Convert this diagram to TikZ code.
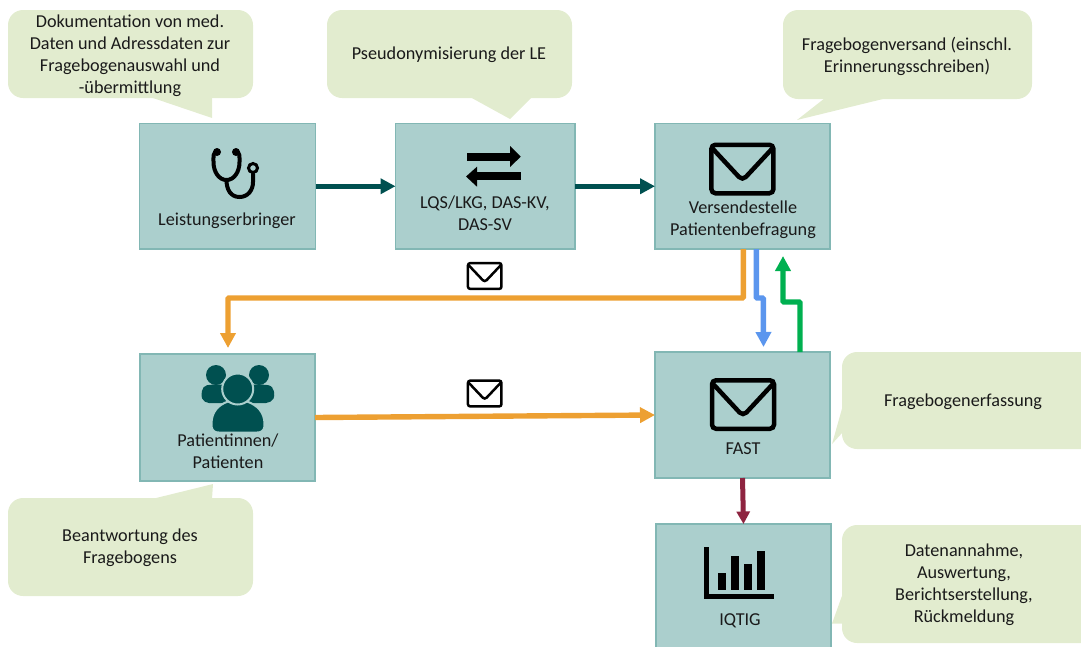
\documentclass[tikz,border=0pt]{standalone}
\usepackage{fontspec}
\setmainfont{Carlito}
\usetikzlibrary{arrows.meta}
\definecolor{boxfill}{HTML}{ABCFCD}
\definecolor{boxline}{HTML}{82B7B4}
\definecolor{callfill}{HTML}{E2ECCF}
\definecolor{tealdark}{HTML}{005050}
\definecolor{orangeline}{HTML}{EDA032}
\definecolor{blueline}{HTML}{5B96EE}
\definecolor{greenline}{HTML}{00B050}
\definecolor{redline}{HTML}{8E2440}
\definecolor{txt}{HTML}{1A1A1A}
\tikzset{
  x=1pt,y=-1pt,
  boxn/.style={draw=boxline,line width=1.8pt,fill=boxfill,inner sep=0pt,outer sep=0pt},
  call/.style={fill=callfill,rounded corners=15pt},
  lab/.style={align=center,font=\fontsize{18.2}{22}\selectfont,text=txt,inner sep=0pt},
  conn/.style={line width=5.4pt,-{Triangle[length=15pt,width=15pt]}},
}
\newcommand{\envicon}[5]{% cx cy w h lw
  \begin{scope}[shift={(#1,#2)}]
    \draw[black,line width=#5pt,rounded corners=#5*0.9pt] (-#3*0.5,-#4*0.5) rectangle (#3*0.5,#4*0.5);
    \draw[black,line width=#5pt,rounded corners=#5*1.1pt] (-#3*0.48,-#4*0.42) -- (0,#4*0.24) -- (#3*0.48,-#4*0.42);
  \end{scope}}
\begin{document}
\begin{tikzpicture}
\useasboundingbox (0,0) rectangle (1081,646);
% callouts
\fill[call] (8,10) rectangle (253,98);
\fill[callfill] (150,97) -- (212,118) -- (212,97) -- cycle;
\fill[call] (327,10) rectangle (572,98);
\fill[callfill] (470,97) -- (510,119) -- (532,97) -- cycle;
\fill[call] (783,10) rectangle (1032,99);
\fill[callfill] (887,98) -- (797,120) -- (825,98) -- cycle;
\fill[call] (842,352) rectangle (1100,449);
\fill[callfill] (843,405) -- (832,444) -- (843,432) -- cycle;
\fill[call] (8,498) rectangle (253,596);
\fill[callfill] (152,499) -- (213,484) -- (212,499) -- cycle;
\fill[call] (842,525) rectangle (1100,643);
\fill[callfill] (843,593) -- (832,623.5) -- (845,623.5) -- cycle;
% boxes
\node[boxn,minimum width=176pt,minimum height=125.5pt] (le) at (227.5,186.25) {};
\node[boxn,minimum width=179.5pt,minimum height=125.5pt] (lq) at (485.25,186.25) {};
\node[boxn,minimum width=175pt,minimum height=125.5pt] (ve) at (742.5,186.25) {};
\node[boxn,minimum width=175pt,minimum height=127pt] (pa) at (227.5,417.5) {};
\node[boxn,minimum width=175pt,minimum height=126pt] (fa) at (742.5,415) {};
\node[boxn,minimum width=175pt,minimum height=136pt] (iq) at (743.5,592) {};
% free ends of the connectors
\coordinate (orangeend) at (228,348);
\coordinate (blueend) at (763.5,347);
\coordinate (greenend) at (783,256);
% connectors
\draw[conn,tealdark] (le.east) -- (lq.west);
\draw[conn,tealdark] (lq.east) -- (ve.west);
\draw[conn,orangeline,rounded corners=1pt] ([xshift=0.8pt]ve.south) -- ++(0,49) -| (orangeend);
\draw[conn,orangeline] (pa.east) -- (fa.west);
\draw[conn,blueline,rounded corners=1pt] ([xshift=13.8pt]ve.south) -- ++(0,49) -- ++(7,0) -- (blueend);
\draw[conn,greenline,rounded corners=1pt] ([xshift=57.5pt]fa.north) -- ++(0,-50) -| (greenend);
\draw[conn,redline,line width=5pt,-{Triangle[length=12.5pt,width=13pt]}] (fa.south) -- (iq.north);
% envelopes
\envicon{742.4}{169}{62}{48.5}{4.5}
\envicon{743}{404.5}{62}{48.5}{4.5}
\envicon{484.7}{276}{33.5}{25.8}{2.5}
\envicon{484.7}{393.5}{33.5}{25.8}{2.5}
% arrows icon
\fill[black] (467,152.7) rectangle (512,160.7);
\fill[black] (510,146) -- (520.7,156.7) -- (510,167) -- cycle;
\fill[black] (475,172.3) rectangle (521,180.3);
\fill[black] (477,166.7) -- (466,176.5) -- (477,186.7) -- cycle;
% stethoscope
\begin{scope}[black,line width=4pt,line cap=round]
  \draw (217,152) .. controls (213,152) and (213.5,156) .. (213.5,162) .. controls (213.5,172) and (219,180) .. (226.5,180) .. controls (234,180) and (239.5,172) .. (239.5,162) .. controls (239.5,156) and (240,152) .. (236,152);
  \draw (226.5,180) .. controls (226.5,190) and (231,197) .. (239.5,197) .. controls (248,197) and (253,190) .. (253,182) -- (253,174);
  \fill (217,152) circle (4);
  \fill (236,152) circle (4);
  \draw[line width=3pt] (253,168) circle (4.5);
\end{scope}
% people icon
\begin{scope}[tealdark]
  \fill (216,375) circle (10);
  \fill (259,375) circle (10);
  \fill[rounded corners=5pt] (204,403) .. controls (201,396) and (201,386) .. (212,384.5) -- (228,384.5) -- (228,403) -- cycle;
  \fill[rounded corners=5pt] (271,403) .. controls (275,396) and (275,386) .. (263,384.5) -- (247,384.5) -- (247,403) -- cycle;
  \filldraw[draw=boxfill,line width=2pt] (219,432.5) .. controls (212,432.5) and (211.5,428) .. (211.5,424) .. controls (211.5,412) and (218,405) .. (228,401.5) .. controls (233,404) and (242,404) .. (247,401.5) .. controls (257,405) and (264.5,412) .. (264.5,424) .. controls (264.5,428) and (264,432.5) .. (257,432.5) -- cycle;
  \filldraw[draw=boxfill,line width=2pt] (237.7,389) circle (15.5);
\end{scope}
% chart
\begin{scope}[black]
  \fill (704.3,546.7) rectangle (709,598.5);
  \fill (704.3,594) rectangle (774,598.5);
  \fill (717.7,572.7) rectangle (726.3,590);
  \fill (730.7,555.7) rectangle (739.3,590);
  \fill (743.7,564) rectangle (752.3,590);
  \fill (756.7,551) rectangle (765.3,590);
\end{scope}
% labels
\node[lab] (t1) at (130,56) {Dokumentation von med.\\Daten und Adressdaten zur\\Fragebogenauswahl und\\-übermittlung};
\node[lab] (t2) at (449,55) {Pseudonymisierung der LE};
\node[lab] (t3) at (907,56) {Fragebogenversand (einschl.\\Erinnerungsschreiben)};
\node[lab] (t4) at (963,402) {Fragebogenerfassung};
\node[lab] (t5) at (130,548) {Beantwortung des\\Fragebogens};
\node[lab] (t6) at (964,585) {Datenannahme,\\Auswertung,\\Berichtserstellung,\\Rückmeldung};
\node[lab] (n1) at (227,221) {Leistungserbringer};
\node[lab] (n2) at (485,213) {LQS/LKG, DAS-KV,\\DAS-SV};
\node[lab] (n3) at (743,220) {Versendestelle\\Patientenbefragung};
\node[lab] (n4) at (228,451) {Patientinnen/\\Patienten};
\node[lab] (n5) at (743,449) {FAST};
\node[lab] (n6) at (740,621) {IQTIG};
\end{tikzpicture}
\end{document}
